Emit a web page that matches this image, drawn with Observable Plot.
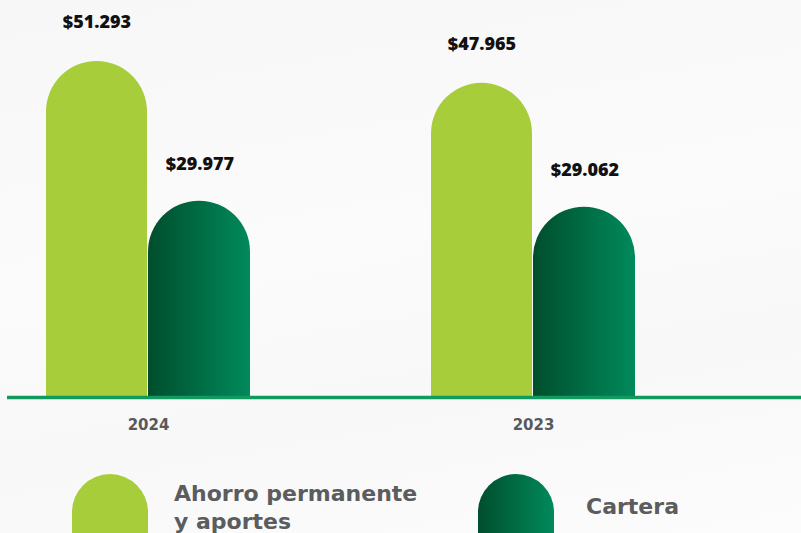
<!DOCTYPE html>
<html>
<head>
<meta charset="utf-8">
<script src="https://cdn.jsdelivr.net/npm/d3@7"></script>
<script src="https://cdn.jsdelivr.net/npm/@observablehq/plot@0.6"></script>
<style>
  html, body { margin: 0; padding: 0; background: #f9f9f9; }
  body { width: 801px; height: 533px; overflow: hidden; position: relative;
         font-family: "Open Sans", "DejaVu Sans", sans-serif;
         background: linear-gradient(170deg, #f7f7f7 0%, #fbfbfb 45%, #f8f8f8 70%, #fcfcfc 100%); }
  #chart svg { display: block; }
  #chart g[aria-label="x-axis tick label"] text { font-weight: 700; font-size: 15px; font-family: "DejaVu Sans", sans-serif; }
  .legend { position: absolute; top: 474px; left: 0; width: 801px; height: 80px; }
  .swatch { position: absolute; top: 0; width: 76px; height: 80px; border-radius: 38px 38px 0 0; }
  .lab { position: absolute; font-size: 22px; font-weight: 700; color: #5b5c5e; line-height: 28px; white-space: nowrap;
         font-family: "DejaVu Sans", sans-serif; }
</style>
</head>
<body>
<div id="chart"></div>
<div class="legend" id="legend"></div>
<script>
// ---- data ----
const years = ["2024", "2023"];
const series = ["Ahorro permanente y aportes", "Cartera"];
const ahorro = [51293, 47965];
const cartera = [29977, 29062];

const rows = [];
years.forEach((y, i) => {
  rows.push({year: y, serie: series[0], value: ahorro[i]});
  rows.push({year: y, serie: series[1], value: cartera[i]});
});
const light = rows.filter(d => d.serie === series[0]);
const dark = rows.filter(d => d.serie === series[1]);

const loc = d3.formatLocale({decimal: ",", thousands: ".", grouping: [3], currency: ["$", ""]});
const fmt = loc.format("$,");

const LIGHT = "#a7ce3a";
const half = 102; // inset for half band
const labelStyle = {fontSize: 18, fontWeight: 800, fill: "#111", fontFamily: "Open Sans, DejaVu Sans, sans-serif"};

const svg = Plot.plot({
  width: 801,
  height: 445,
  marginLeft: 7,
  marginRight: 0,
  marginTop: 61,
  marginBottom: 48,
  style: {background: "transparent", color: "#58595b", fontSize: "13px", fontFamily: "DejaVu Sans, sans-serif"},
  x: {type: "band", domain: years, range: [7, 674.5], paddingInner: 0.4708, paddingOuter: 0.1012,
      tickSize: 0, tickPadding: 22, label: null},
  y: {domain: [0, d3.max(rows, d => d.value)], axis: null},
  marks: [
    Plot.barY(light, {x: "year", y: "value", fill: LIGHT, insetRight: half + 1}),
    Plot.barY(dark, {x: "year", y: "value", fill: "#007a4d", insetLeft: half}),
    Plot.ruleY([0], {stroke: "#12995f", strokeWidth: 3.5}),
    Plot.text(light, {x: "year", y: "value", text: d => fmt(d.value), dx: -51.5, dy: -39, ...labelStyle}),
    Plot.text(dark, {x: "year", y: "value", text: d => fmt(d.value), dx: 51.5, dy: -37, ...labelStyle})
  ]
});

// gradient definition
const NS = "http://www.w3.org/2000/svg";
const defs = document.createElementNS(NS, "defs");
defs.innerHTML = '<linearGradient id="darkGrad" x1="0" x2="1" y1="0" y2="0">' +
  '<stop offset="0" stop-color="#004e2d"/><stop offset="1" stop-color="#008a5b"/></linearGradient>';
svg.insertBefore(defs, svg.firstChild);

// round the bar tops; second bar group gets the gradient
const barGroups = svg.querySelectorAll('g[aria-label="bar"]');
barGroups.forEach((g, gi) => {
  g.querySelectorAll("rect").forEach(r => {
    const x = +r.getAttribute("x"), y = +r.getAttribute("y");
    const w = +r.getAttribute("width"), h = +r.getAttribute("height");
    if (!(w > 0 && h > 0)) return;
    const rad = Math.min(w / 2, h);
    const p = document.createElementNS(NS, "path");
    p.setAttribute("d", `M${x},${y + h}V${y + rad}A${rad},${rad} 0 0 1 ${x + w},${y + rad}V${y + h}Z`);
    for (const a of r.attributes) if (!["x", "y", "width", "height"].includes(a.name)) p.setAttribute(a.name, a.value);
    if (gi === 1) p.setAttribute("fill", "url(#darkGrad)");
    r.replaceWith(p);
  });
  if (gi === 1) g.setAttribute("fill", "url(#darkGrad)");
});

document.getElementById("chart").appendChild(svg);

// legend
const legendCfg = [
  {left: 72, bg: LIGHT, textLeft: 174, textTop: 6},
  {left: 478, bg: "linear-gradient(90deg, #004e2d, #008a5b)", textLeft: 586, textTop: 19}
];
const leg = document.getElementById("legend");
series.forEach((s, i) => {
  const c = legendCfg[i];
  const sw = document.createElement("div");
  sw.className = "swatch";
  sw.style.left = c.left + "px";
  sw.style.background = c.bg;
  leg.appendChild(sw);
  const t = document.createElement("div");
  t.className = "lab";
  t.style.left = c.textLeft + "px";
  t.style.top = c.textTop + "px";
  t.innerHTML = i === 0 ? s.replace(" y aportes", "<br>y aportes") : s;
  leg.appendChild(t);
});
</script>
</body>
</html>
